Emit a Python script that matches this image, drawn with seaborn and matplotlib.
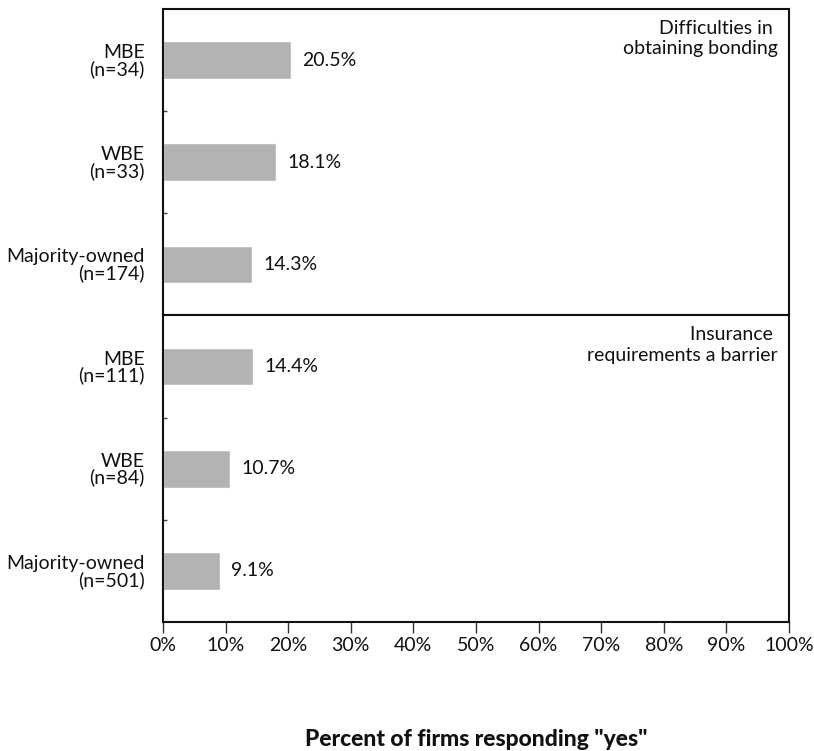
import matplotlib
matplotlib.use("Agg")
import matplotlib.pyplot as plt
import seaborn as sns
import pandas as pd

# Survey results: share of firms answering "yes", by ownership group
panels = ["Difficulties in \nobtaining bonding", "Insurance \nrequirements a barrier"]
groups = ["MBE", "WBE", "Majority-owned"]
sample_bonding = [34, 33, 174]
sample_insurance = [111, 84, 501]
pct_bonding = [20.5, 18.1, 14.3]
pct_insurance = [14.4, 10.7, 9.1]
x_ticks = [0, 10, 20, 30, 40, 50, 60, 70, 80, 90, 100]
x_label = 'Percent of firms responding "yes"'

sns.set_theme(style="white")
plt.rcParams["font.family"] = ["Lato", "DejaVu Sans"]

frames = []
for panel, ns, vals in [(panels[0], sample_bonding, pct_bonding),
                        (panels[1], sample_insurance, pct_insurance)]:
    frames.append(pd.DataFrame({
        "panel": panel,
        "label": [f"{g}\n(n={n})" for g, n in zip(groups, ns)],
        "pct": vals,
    }))

fig, axes = plt.subplots(2, 1, figsize=(8.14, 7.51), dpi=100, sharex=True)
fig.subplots_adjust(left=0.2002, right=0.9693, top=0.988, bottom=0.1718, hspace=0)

bar_color = "#b3b3b3"
fs = 14

for ax, df, panel in zip(axes, frames, panels):
    sns.barplot(data=df, x="pct", y="label", ax=ax, color=bar_color,
                width=0.37, orient="h", saturation=1)
    for i, v in enumerate(df["pct"]):
        ax.text(v + 1.8, i, f"{v:.1f}%", va="center", ha="left",
                fontsize=fs, color="#111111")
    ax.text(0.982, 0.965, panel, transform=ax.transAxes, ha="right", va="top",
            fontsize=fs, color="#111111", linespacing=1.25)
    ax.set_xlim(0, 100)
    ax.set_ylim(2.5, -0.5)
    ax.set_ylabel("")
    ax.set_xlabel("")
    for lbl in ax.get_yticklabels():
        lbl.set_linespacing(0.92)
        lbl.set_fontsize(fs)
        lbl.set_color("#111111")
    ax.tick_params(axis="y", length=0, pad=13)
    ax.set_yticks([0.5, 1.5], minor=True)
    ax.tick_params(axis="y", which="minor", direction="in", length=3,
                   width=1, color="#444444", left=True)
    for s in ax.spines.values():
        s.set_visible(True)
        s.set_color("#111111")
        s.set_linewidth(1.5)

ax = axes[1]
ax.set_xticks(x_ticks)
ax.set_xticklabels([f"{t}%" for t in x_ticks], fontsize=fs, color="#111111")
ax.tick_params(axis="x", bottom=True, length=8, width=1, color="#333333", pad=3)
ax.set_xlabel(x_label, fontsize=16.5, fontweight="black", labelpad=54,
              color="#111111")

fig.savefig("out.png", dpi=100)
